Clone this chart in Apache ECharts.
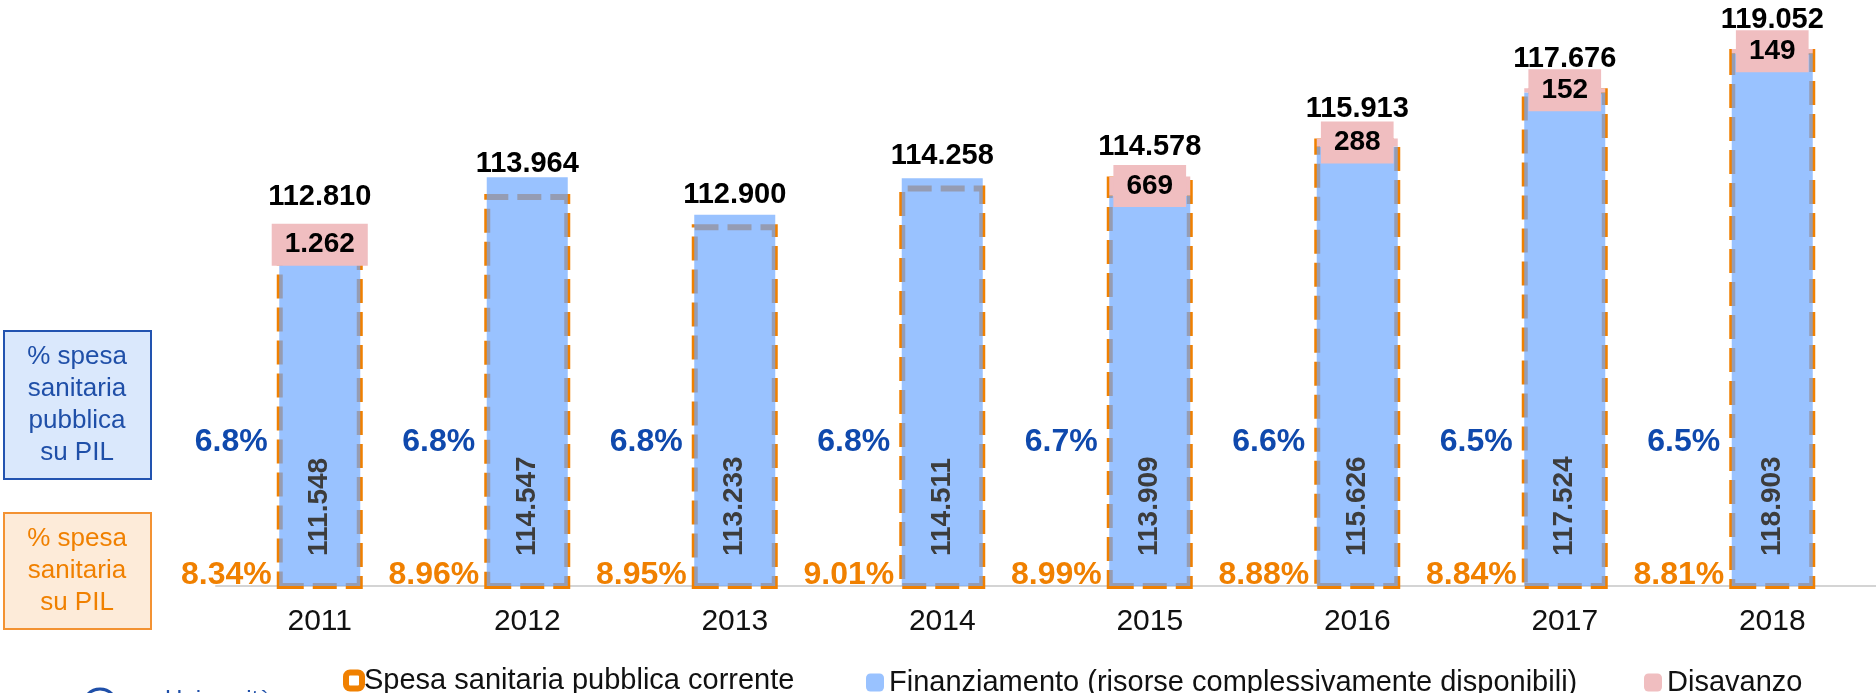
<!DOCTYPE html>
<html>
<head>
  <meta charset="utf-8">
  <title>Spesa sanitaria</title>
  <script src="https://cdn.jsdelivr.net/npm/echarts@6/dist/echarts.min.js"></script>
  <style>
    html, body { margin: 0; padding: 0; background: #fff; }
    #container { width: 1876px; height: 693px; }
  </style>
</head>
<body>
  <div id="container"></div>
  <script>
    // valori in milioni di euro
    var years = ['2011', '2012', '2013', '2014', '2015', '2016', '2017', '2018'];
    var spesa = [112810, 113964, 112900, 114258, 114578, 115913, 117676, 119052];
    var finanziamento = [111548, 114547, 113233, 114511, 113909, 115626, 117524, 118903];
    var disavanzo = [1262, null, null, null, 669, 288, 152, 149];
    var pilPubblica = ['6.8%', '6.8%', '6.8%', '6.8%', '6.7%', '6.6%', '6.5%', '6.5%'];
    var pilSpesa = ['8.34%', '8.96%', '8.95%', '9.01%', '8.99%', '8.88%', '8.84%', '8.81%'];

    var FONT = '"Liberation Sans", Arial, sans-serif';
    var ORANGE = '#f08000';
    var BLUE_TXT = '#0f49ad';

    function fmt(v) {
      return String(v).replace(/\B(?=(\d{3})+(?!\d))/g, '.');
    }

    var dom = document.getElementById('container');
    var myChart = echarts.init(dom);

    var option = {
      animation: false,
      textStyle: { fontFamily: FONT },
      grid: { left: 216, top: 22, width: 1704, height: 564 },
      xAxis: [
        {
          type: 'category',
          data: years,
          axisLine: { lineStyle: { color: '#d4d4d4', width: 2 } },
          axisTick: { length: 8, lineStyle: { color: '#d4d4d4', width: 2 } },
          axisLabel: { color: '#111', fontSize: 30, margin: 21, fontFamily: FONT }
        },
        { type: 'category', data: years, show: false }
      ],
      yAxis: [
        { type: 'value', min: 100200, max: 120000, show: false },
        { type: 'value', min: 0, max: 100, show: false }
      ],
      legend: [
        {
          left: 338, top: 661, itemWidth: 16, itemHeight: 16, itemGap: 0,
          textStyle: { fontSize: 29, color: '#111', fontFamily: FONT, padding: [0, 0, 0, -3] },
          data: [{ name: 'Spesa sanitaria pubblica corrente',
                   itemStyle: { color: '#fff', borderColor: ORANGE, borderWidth: 6, borderType: 'solid' } }]
        },
        {
          left: 861, top: 663, itemWidth: 18, itemHeight: 18,
          textStyle: { fontSize: 29, color: '#111', fontFamily: FONT },
          data: [{ name: 'Finanziamento (risorse complessivamente disponibili)',
                   itemStyle: { color: '#99c2ff', opacity: 1 } }]
        },
        {
          left: 1639, top: 663, itemWidth: 18, itemHeight: 18,
          textStyle: { fontSize: 29, color: '#111', fontFamily: FONT },
          data: [{ name: 'Disavanzo', itemStyle: { color: '#f0bec0' } }]
        }
      ],
      graphic: [
        { type: 'rect', shape: { x: 4, y: 331, width: 147, height: 148 },
          style: { fill: '#dae8fc', stroke: '#2253b0', lineWidth: 2 } },
        { type: 'text', x: 77, y: 405,
          style: { text: '% spesa\nsanitaria\npubblica\nsu PIL', fill: '#1f4fa8',
                   font: '26px ' + FONT, align: 'center', verticalAlign: 'middle', lineHeight: 32 } },
        { type: 'rect', shape: { x: 4, y: 513, width: 147, height: 116 },
          style: { fill: '#fdebd9', stroke: '#f39232', lineWidth: 2 } },
        { type: 'text', x: 77, y: 571,
          style: { text: '% spesa\nsanitaria\nsu PIL', fill: ORANGE,
                   font: '26px ' + FONT, align: 'center', verticalAlign: 'middle', lineHeight: 32 } },
        { type: 'circle', shape: { cx: 100, cy: 706, r: 17 },
          style: { fill: '#fff', stroke: '#1f4fa8', lineWidth: 3 } },
        { type: 'text', x: 165, y: 688,
          style: { text: 'Università', fill: '#1f4fa8', font: '24px ' + FONT } }
      ],
      series: [
        {
          name: 'Spesa sanitaria pubblica corrente',
          type: 'bar',
          xAxisIndex: 1,
          barWidth: 86,
          data: spesa,
          itemStyle: {
            color: 'rgba(255,255,255,0)',
            borderColor: ORANGE,
            borderWidth: 6,
            borderType: [24, 9]
          },
          label: {
            show: true, position: 'top', distance: 15,
            formatter: function (p) { return fmt(p.value); },
            color: '#000', fontWeight: 'bold', fontSize: 29, fontFamily: FONT
          }
        },
        {
          name: 'Finanziamento (risorse complessivamente disponibili)',
          type: 'bar',
          stack: 'fin',
          barWidth: 81,
          data: finanziamento,
          itemStyle: { color: 'rgb(109,168,255)', opacity: 0.7 },
          label: {
            show: true, opacity: 1, position: 'insideBottom', distance: 30, rotate: 90,
            align: 'left', verticalAlign: 'middle',
            formatter: function (p) { return fmt(p.value); },
            color: '#3c3c3c', fontWeight: 'bold', fontSize: 28, fontFamily: FONT
          }
        },
        {
          name: 'Disavanzo',
          type: 'bar',
          stack: 'fin',
          barWidth: 81,
          data: disavanzo,
          itemStyle: { color: '#f0bec0' },
          label: {
            show: true, position: 'inside',
            formatter: function (p) { return fmt(p.value); },
            backgroundColor: '#f0bec0', padding: [7, 13],
            color: '#000', fontWeight: 'bold', fontSize: 28, fontFamily: FONT
          }
        },
        {
          name: 'pil_pubblica',
          type: 'scatter',
          yAxisIndex: 1,
          symbolSize: 0,
          itemStyle: { opacity: 1 },
          data: pilPubblica.map(function (p, i) { return { value: [i, 25.5], name: p }; }),
          label: {
            show: true, opacity: 1, position: 'left', distance: 52,
            formatter: function (p) { return p.name; },
            color: BLUE_TXT, fontWeight: 'bold', fontSize: 32, fontFamily: FONT
          }
        },
        {
          name: 'pil_spesa',
          type: 'scatter',
          yAxisIndex: 1,
          symbolSize: 0,
          itemStyle: { opacity: 1 },
          data: pilSpesa.map(function (p, i) { return { value: [i, 2], name: p }; }),
          label: {
            show: true, opacity: 1, position: 'left', distance: 48,
            formatter: function (p) { return p.name; },
            color: ORANGE, fontWeight: 'bold', fontSize: 32, fontFamily: FONT
          }
        }
      ]
    };
    myChart.setOption(option);
    window.addEventListener('resize', myChart.resize);
  </script>
</body>
</html>
